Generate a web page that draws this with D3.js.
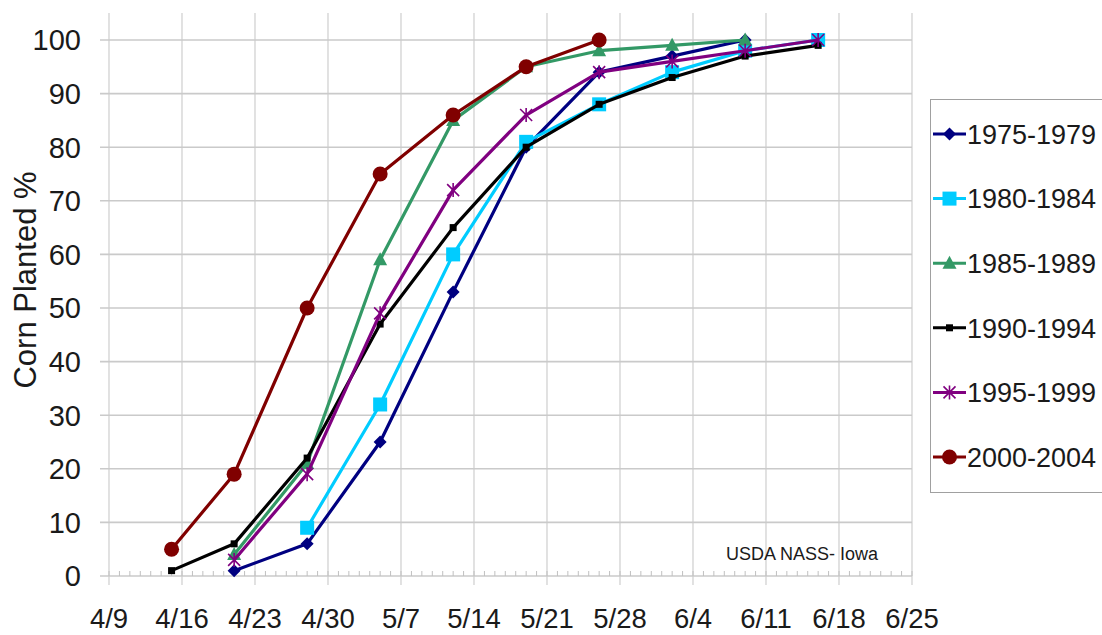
<!DOCTYPE html>
<html>
<head>
<meta charset="utf-8">
<script src="https://cdn.jsdelivr.net/npm/d3@7/dist/d3.min.js"></script>
<style>
  html, body { margin: 0; padding: 0; background: #fff; }
  svg { display: block; font-family: "Liberation Sans", Arial, sans-serif; }
</style>
</head>
<body>
<svg id="chart" width="1102" height="635"></svg>
<script>
// ---- data ----
const dates = ["4/15","4/21","4/28","5/5","5/12","5/19","5/26","6/2","6/9","6/16"];
const seriesNames = ["1975-1979","1980-1984","1985-1989","1990-1994","1995-1999","2000-2004"];
const s1975 = [null, 1, 6, 25, 53, 80, 94, 97, 100, null];
const s1980 = [null, null, 9, 32, 60, 81, 88, 94, 98, 100];
const s1985 = [null, 4, 21, 59, 85, 95, 98, 99, 100, null];
const s1990 = [1, 6, 22, 47, 65, 80, 88, 93, 97, 99];
const s1995 = [null, 3, 19, 49, 72, 86, 94, 96, 98, 100];
const s2000 = [5, 19, 50, 75, 86, 95, 100, null, null, null];
const xTickLabels = ["4/9","4/16","4/23","4/30","5/7","5/14","5/21","5/28","6/4","6/11","6/18","6/25"];
const yTicks = [0,10,20,30,40,50,60,70,80,90,100];
const yTitle = "Corn Planted %";
const sourceNote = "USDA NASS- Iowa";

// ---- styles ----
const colors = ["#000080","#00CCFF","#339966","#000000","#800080","#800000"];
const markers = ["diamond","square","triangle","smallsquare","asterisk","circle"];

const parseMD = s => { const [m,d] = s.split("/").map(Number); return new Date(Date.UTC(2001, m-1, d)); };

const allSeries = [s1975, s1980, s1985, s1990, s1995, s2000].map((vals, i) => ({
  name: seriesNames[i], color: colors[i], marker: markers[i],
  points: vals.map((v, j) => ({date: parseMD(dates[j]), value: v})).filter(p => p.value !== null)
}));

const svg = d3.select("#chart");

const x = d3.scaleUtc()
  .domain([parseMD(xTickLabels[0]), parseMD(xTickLabels[xTickLabels.length-1])])
  .range([109, 912]);
const y = d3.scaleLinear().domain([0, 100]).range([576, 40]);

// vertical gridlines (weekly)
const xTickDates = xTickLabels.map(parseMD);
svg.append("g").selectAll("line").data(xTickDates).join("line")
  .attr("x1", d => x(d)).attr("x2", d => x(d))
  .attr("y1", 13).attr("y2", 585)
  .attr("stroke", "#d2d2d2").attr("stroke-width", 1.3);

// horizontal gridlines
svg.append("g").selectAll("line").data(yTicks).join("line")
  .attr("x1", 100).attr("x2", x.range()[1])
  .attr("y1", d => y(d)).attr("y2", d => y(d))
  .attr("stroke", "#cacaca").attr("stroke-width", 1.6);

// minor daily ticks
const days = d3.utcDay.range(x.domain()[0], d3.utcDay.offset(x.domain()[1], 1));
svg.append("g").selectAll("line").data(days).join("line")
  .attr("x1", d => x(d)).attr("x2", d => x(d))
  .attr("y1", y(0) - 5).attr("y2", y(0))
  .attr("stroke", "#c0c0c0").attr("stroke-width", 1);

// y tick labels
svg.append("g").selectAll("text").data(yTicks).join("text")
  .attr("x", 81).attr("y", d => y(d))
  .attr("dy", "0.36em")
  .attr("text-anchor", "end")
  .attr("font-size", 29).attr("fill", "#1a1a1a")
  .text(d => d);

// x tick labels
svg.append("g").selectAll("text").data(xTickLabels).join("text")
  .attr("x", d => x(parseMD(d))).attr("y", 628)
  .attr("text-anchor", "middle")
  .attr("font-size", 27.5).attr("fill", "#1a1a1a")
  .text(d => d);

// y title
svg.append("text")
  .attr("transform", "translate(36,280) rotate(-90)")
  .attr("text-anchor", "middle")
  .attr("font-size", 31).attr("fill", "#1a1a1a")
  .text(yTitle);

// source note
svg.append("text")
  .attr("x", 878).attr("y", 560)
  .attr("text-anchor", "end")
  .attr("font-size", 18).attr("fill", "#1a1a1a")
  .text(sourceNote);

// marker drawing
function drawMarker(g, type, color) {
  switch (type) {
    case "diamond":
      g.append("path").attr("d", "M0,-6.5L6.5,0L0,6.5L-6.5,0Z").attr("fill", color); break;
    case "square":
      g.append("rect").attr("x", -7).attr("y", -7).attr("width", 14).attr("height", 14).attr("fill", color); break;
    case "triangle":
      g.append("path").attr("d", "M0,-7.5L7,5.5L-7,5.5Z").attr("fill", color); break;
    case "smallsquare":
      g.append("rect").attr("x", -3.5).attr("y", -3.5).attr("width", 7).attr("height", 7).attr("fill", color); break;
    case "asterisk":
      g.append("path").attr("d", "M-6,-6L6,6M-6,6L6,-6M0,-7L0,7")
        .attr("stroke", color).attr("stroke-width", 1.6).attr("fill", "none"); break;
    case "circle":
      g.append("circle").attr("r", 7.5).attr("fill", color); break;
  }
}

const line = d3.line().x(d => x(d.date)).y(d => y(d.value));

const seriesG = svg.append("g");
allSeries.forEach(s => {
  const g = seriesG.append("g");
  g.append("path").datum(s.points)
    .attr("d", line)
    .attr("fill", "none").attr("stroke", s.color)
    .attr("stroke-width", 3.2).attr("stroke-linejoin", "round");
  s.points.forEach(p => {
    const mg = g.append("g").attr("transform", `translate(${x(p.date)},${y(p.value)})`);
    drawMarker(mg, s.marker, s.color);
  });
});

// legend
const legend = svg.append("g");
legend.append("rect")
  .attr("x", 930.5).attr("y", 99.5).attr("width", 200).attr("height", 393)
  .attr("fill", "#fff").attr("stroke", "#a0a0a0").attr("stroke-width", 1);
allSeries.forEach((s, i) => {
  const cy = 134 + i * 64.6;
  const g = legend.append("g");
  g.append("line").attr("x1", 933).attr("x2", 966).attr("y1", cy).attr("y2", cy)
    .attr("stroke", s.color).attr("stroke-width", 3);
  const mg = g.append("g").attr("transform", `translate(949.5,${cy})`);
  drawMarker(mg, s.marker, s.color);
  g.append("text").attr("x", 967).attr("y", cy).attr("dy", "0.36em")
    .attr("font-size", 27).attr("fill", "#1a1a1a").text(s.name);
});
</script>
</body>
</html>
